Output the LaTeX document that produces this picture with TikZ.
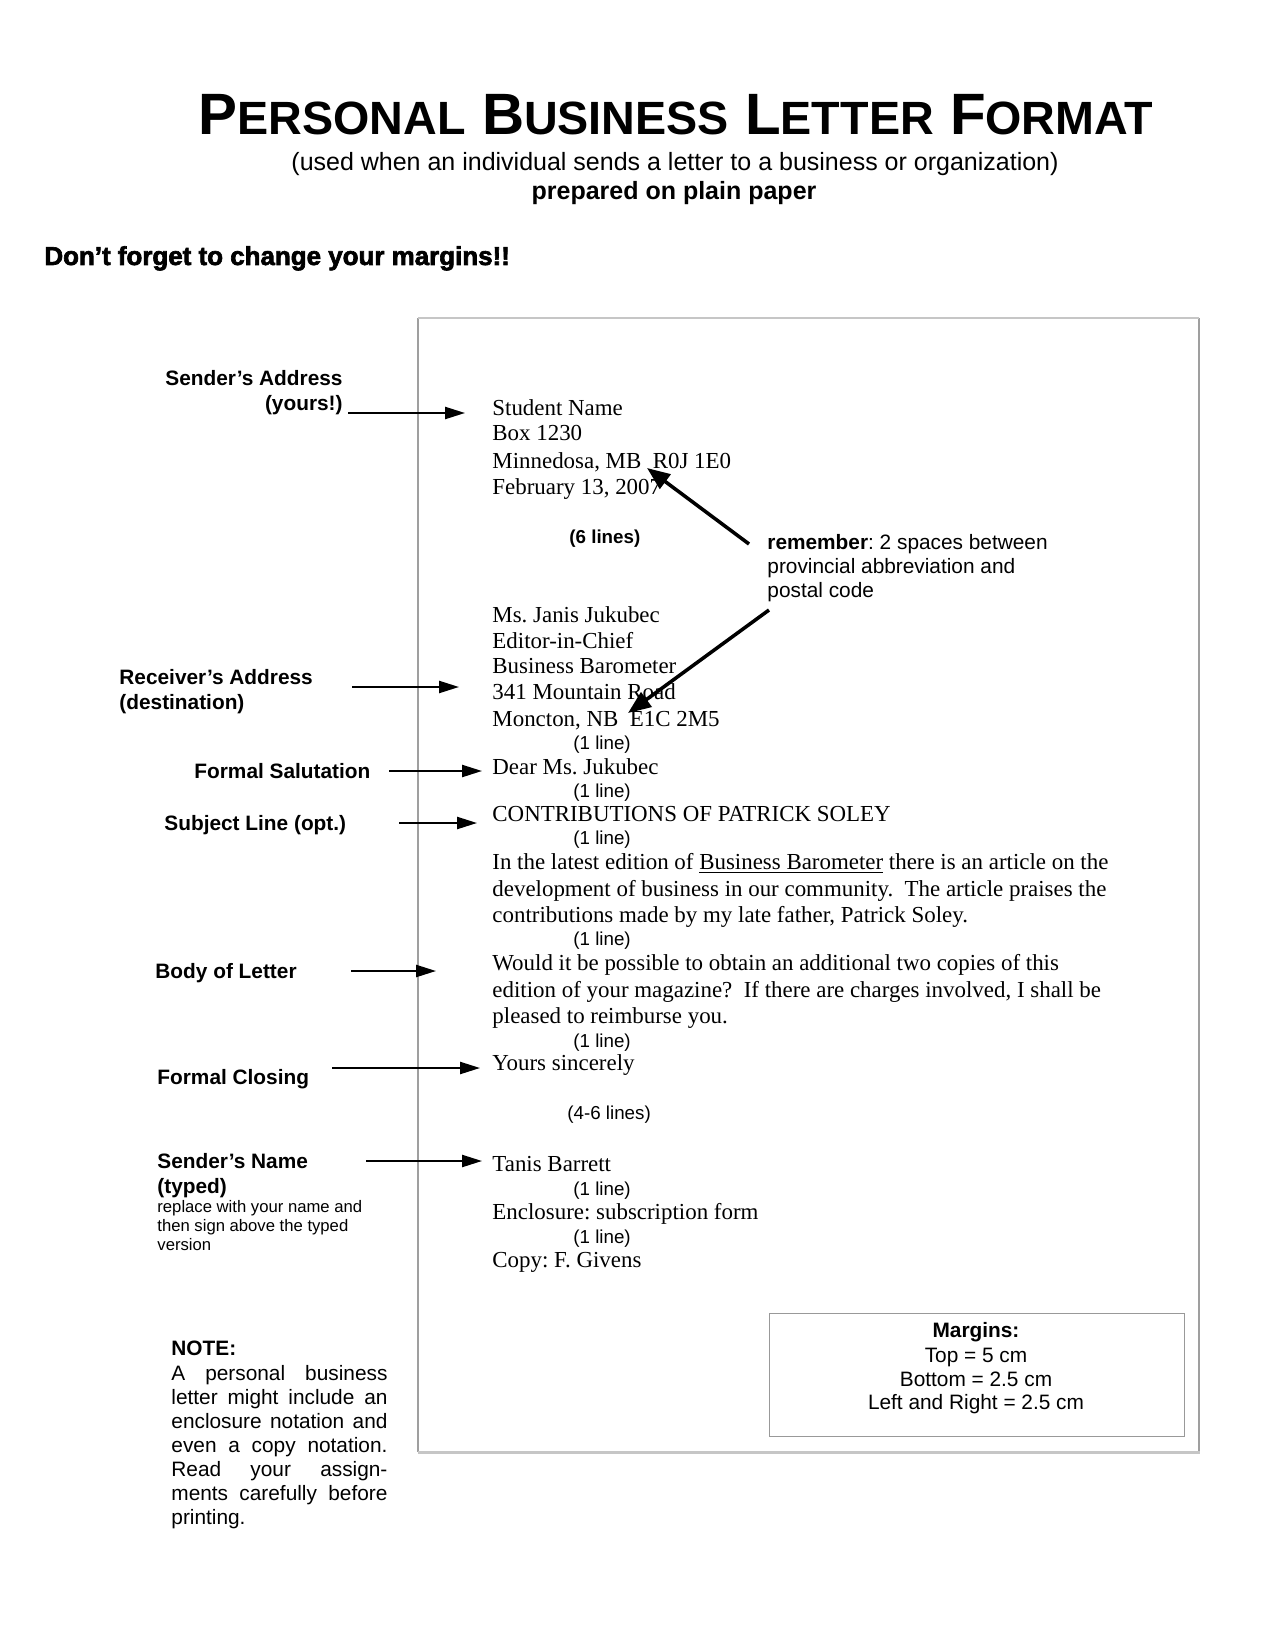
\documentclass[tikz,border=0pt]{standalone}
\usepackage{fontspec}
\usetikzlibrary{arrows.meta}
\setmainfont{Liberation Serif}
\newfontfamily\arial{Liberation Sans}
\newfontfamily\heavyfont{Liberation Sans Bold}[FakeBold=2.5]
\newcommand\mySC[2]{{\fontsize{28}{30}\selectfont #1}{\fontsize{22.4}{24}\selectfont #2}}
\frenchspacing
\tikzset{
  lbl/.style={font=\arial\bfseries\fontsize{10}{11.5}\selectfont, inner sep=0pt, anchor=base west},
  lblr/.style={lbl, anchor=base east},
  small/.style={font=\arial\fontsize{8}{9.2}\selectfont, inner sep=0pt, anchor=base west},
  ltr/.style={font=\fontsize{11}{12.65}\selectfont, inner sep=0pt, anchor=base west},
  gapnote/.style={font=\arial\fontsize{9}{10.35}\selectfont, inner sep=0pt, anchor=base west},
  note/.style={font=\arial\fontsize{10}{11.5}\selectfont, inner sep=0pt, anchor=base west},
  mrg/.style={font=\arial\fontsize{10}{11.5}\selectfont, inner sep=0pt, anchor=base},
  harrow/.style={-{Triangle[length=9.6pt,width=5.8pt]}, line width=1pt},
  darrow/.style={-{Triangle[length=11pt,width=8.5pt]}, line width=1.7pt},
}
\begin{document}
\frenchspacing
\begin{tikzpicture}[x=0.48pt,y=-0.48pt]
\useasboundingbox (0,0) rectangle (1275,1650);
\fill[white] (0,0) rectangle (1275,1650);

% header
\node[inner sep=0pt, anchor=base, font=\arial\bfseries\fontsize{28}{30}\selectfont] (title) at (676,135)
  {\mySC{P}{ERSONAL} \mySC{B}{USINESS} \mySC{L}{ETTER} \mySC{F}{ORMAT}};
\node[inner sep=0pt, anchor=base, font=\arial\fontsize{12}{13.8}\selectfont] (sub) at (675,171)
  {(used when an individual sends a letter to a business or organization)};
\node[inner sep=0pt, anchor=base, font=\arial\bfseries\fontsize{12}{13.8}\selectfont] (plain) at (674,200)
  {prepared on plain paper};
\node[inner sep=0pt, anchor=base west, font=\heavyfont\fontsize{12.45}{14}\selectfont] (forget) at (44,265)
  {Don’t forget to change your margins!!};

% letter frame
\draw[gray!75, line width=0.5pt] (418,318) -- (418,1452);
\draw[gray!75, line width=0.6pt] (1199,318) -- (1199,1452);
\draw[gray!45, line width=0.9pt] (418,318) -- (1199,318);
\draw[gray!45, line width=1pt] (418,1452.5) -- (1200,1452.5);

% margins box
\node[draw=gray!80, line width=0.6pt, minimum width=415*0.48pt, minimum height=123*0.48pt, inner sep=0pt, anchor=north west] (mbox) at (769,1313) {};
\node[mrg, font=\arial\bfseries\fontsize{10}{11.5}\selectfont] (m1) at (976,1337) {Margins:};
\node[mrg] (m2) at (976,1362) {Top = 5 cm};
\node[mrg] (m3) at (976,1386) {Bottom = 2.5 cm};
\node[mrg] (m4) at (976,1409) {Left and Right = 2.5 cm};

% left labels
\node[lblr] (sa1) at (343,386) {Sender’s Address};
\node[lblr] (sa2) at (343,411) {(yours!)};
\node[lbl] (ra1) at (119,684) {Receiver’s Address};
\node[lbl] (ra2) at (119,709) {(destination)};
\node[lbl] (fs) at (194,778) {Formal Salutation};
\node[lbl] (sl) at (164,830) {Subject Line (opt.)};
\node[lbl] (bl) at (155,978) {Body of Letter};
\node[lbl] (fc) at (157,1084) {Formal Closing};
\node[lbl] (sn1) at (157,1168) {Sender’s Name};
\node[lbl] (sn2) at (157,1193) {(typed)};
\node[small] (sn3) at (157,1212) {replace with your name and};
\node[small] (sn4) at (157,1231) {then sign above the typed};
\node[small] (sn5) at (157,1250) {version};

% note
\node[lbl] (n0) at (171,1355) {NOTE:};
\node[note] (n1) at (171,1380) {\makebox[103.7pt][s]{A personal business}};
\node[note] (n2) at (171,1404) {\makebox[103.7pt][s]{letter might include an}};
\node[note] (n3) at (171,1428) {\makebox[103.7pt][s]{enclosure notation and}};
\node[note] (n4) at (171,1452) {\makebox[103.7pt][s]{even a copy notation.}};
\node[note] (n5) at (171,1476) {\makebox[103.7pt][s]{Read your assign-}};
\node[note] (n6) at (171,1500) {\makebox[103.7pt][s]{ments carefully before}};
\node[note] (n7) at (171,1524) {printing.};

% remember
\node[lbl, font=\arial\fontsize{10}{11.5}\selectfont] (r1) at (767,549) {\textbf{remember}: 2 spaces between};
\node[lbl, font=\arial\fontsize{10}{11.5}\selectfont] (r2) at (767,573) {provincial abbreviation and};
\node[lbl, font=\arial\fontsize{10}{11.5}\selectfont] (r3) at (767,597) {postal code};

% letter
\node[ltr] (l1) at (492,415) {Student Name};
\node[ltr] (l2) at (492,441) {Box 1230};
\node[ltr] (l3) at (492,468) {Minnedosa, MB\ \ R0J 1E0};
\node[ltr] (l4) at (492,494) {February 13, 2007};
\node[gapnote, font=\arial\bfseries\fontsize{9}{10.35}\selectfont] (g6) at (569,543) {(6 lines)};
\node[ltr] (l5) at (492,622) {Ms. Janis Jukubec};
\node[ltr] (l6) at (492,648) {Editor-in-Chief};
\node[ltr] (l7) at (492,673) {Business Barometer};
\node[ltr] (l8) at (492,699) {341 Mountain Road};
\node[ltr] (l9) at (492,726) {Moncton, NB\ \ E1C 2M5};
\node[gapnote] (g1) at (573,749) {(1 line)};
\node[ltr] (l10) at (492,774) {Dear Ms. Jukubec};
\node[gapnote] (g2) at (573,797) {(1 line)};
\node[ltr] (l11) at (492,821) {CONTRIBUTIONS OF PATRICK SOLEY};
\node[gapnote] (g3) at (573,844) {(1 line)};
\node[ltr] (b1) at (492,869) {In the latest edition of \underline{Business Barometer} there is an article on the};
\node[ltr] (b2) at (492,896) {development of business in our community.\ \ The article praises the};
\node[ltr] (b3) at (492,922) {contributions made by my late father, Patrick Soley.};
\node[gapnote] (g4) at (573,945) {(1 line)};
\node[ltr] (b4) at (492,970) {Would it be possible to obtain an additional two copies of this};
\node[ltr] (b5) at (492,997) {edition of your magazine?\ \ If there are charges involved, I shall be};
\node[ltr] (b6) at (492,1023) {pleased to reimburse you.};
\node[gapnote] (g5) at (573,1047) {(1 line)};
\node[ltr] (l12) at (492,1070) {Yours sincerely};
\node[gapnote] (g46) at (567,1119) {(4-6 lines)};
\node[ltr] (l13) at (492,1171) {Tanis Barrett};
\node[gapnote] (g7) at (573,1195) {(1 line)};
\node[ltr] (l14) at (492,1219) {Enclosure: subscription form};
\node[gapnote] (g8) at (573,1243) {(1 line)};
\node[ltr] (l15) at (492,1267) {Copy: F. Givens};

% arrow end points
\coordinate (a1s) at (348,413);  \coordinate (a1e) at (465,413);
\coordinate (a2s) at (352,687);  \coordinate (a2e) at (459,687);
\coordinate (a3s) at (389,771);  \coordinate (a3e) at (482,771);
\coordinate (a4s) at (399,823);  \coordinate (a4e) at (477,823);
\coordinate (a5s) at (351,971);  \coordinate (a5e) at (436,971);
\coordinate (a6s) at (332,1068); \coordinate (a6e) at (480,1068);
\coordinate (a7s) at (366,1161); \coordinate (a7e) at (482,1161);
\coordinate (d1s) at (749,544);  \coordinate (d1e) at (647,468);
\coordinate (d2s) at (769,610);  \coordinate (d2e) at (628,713);

\draw[harrow] (a1s) -- (a1e);
\draw[harrow] (a2s) -- (a2e);
\draw[harrow] (a3s) -- (a3e);
\draw[harrow] (a4s) -- (a4e);
\draw[harrow] (a5s) -- (a5e);
\draw[harrow] (a6s) -- (a6e);
\draw[harrow] (a7s) -- (a7e);
\draw[darrow] (d1s) -- (d1e);
\draw[darrow] (d2s) -- (d2e);
\end{tikzpicture}
\end{document}
